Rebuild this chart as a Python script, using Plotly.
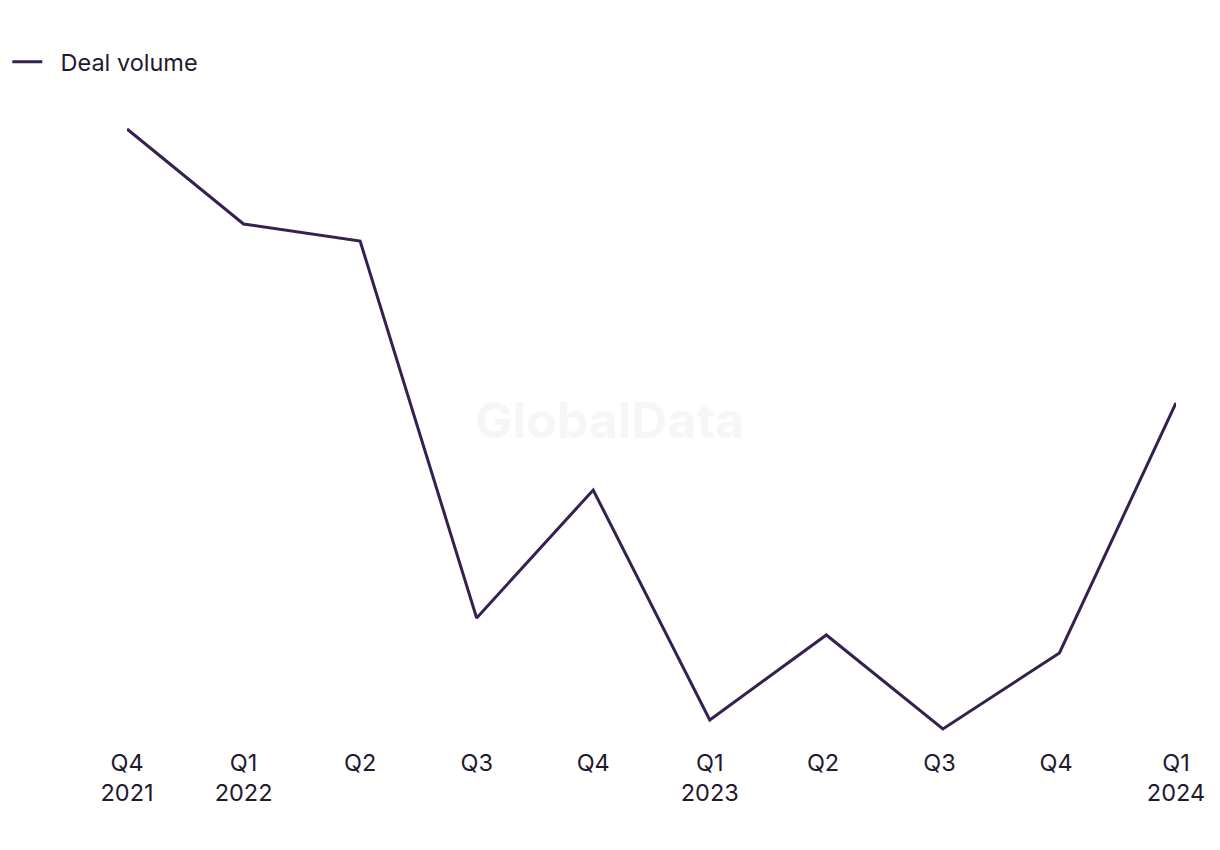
import plotly.graph_objects as go

quarters = ["Q4<br>2021", "Q1<br>2022", "Q2", "Q3", "Q4", "Q1<br>2023", "Q2 ", "Q3 ", "Q4 ", "Q1<br>2024"]
deal_volume = [70.0, 60.5, 58.8, 21.1, 33.9, 10.9, 19.4, 10.0, 17.6, 42.6]

LINE = "#35214f"
TEXT = "#1f1a2e"
FONT = "Inter, Liberation Sans, sans-serif"

fig = go.Figure()
fig.add_trace(go.Scatter(
    x=quarters, y=deal_volume, mode="lines", name="\u00a0\u00a0Deal volume",
    line=dict(color=LINE, width=3),
))

fig.add_annotation(
    text="<b>GlobalData</b>", x=0.4604, y=0.5, xref="paper", yref="paper",
    showarrow=False, font=dict(size=50, color="#f6f6f6", family=FONT),
)

fig.update_layout(
    width=1220, height=850,
    paper_bgcolor="white", plot_bgcolor="white",
    margin=dict(l=127, r=44, t=100, b=110),
    font=dict(family=FONT, size=23.5, color=TEXT),
    showlegend=True,
    legend=dict(orientation="h", x=0.006, y=0.953, xref="container", yref="container",
                xanchor="left", yanchor="top", bgcolor="rgba(0,0,0,0)",
                font=dict(size=23.5, color=TEXT, family=FONT)),
    xaxis=dict(type="category", showgrid=False, zeroline=False, showline=False,
               ticks="", tickfont=dict(size=23.5, color=TEXT), ticklabelstandoff=6),
    yaxis=dict(range=[8.9, 72.9], visible=False, showgrid=False, zeroline=False),
)

fig.write_html("out.html")
